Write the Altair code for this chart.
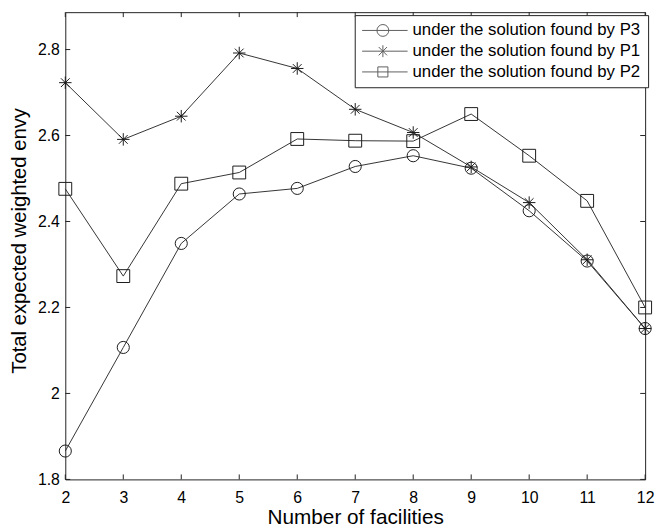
import altair as alt
import pandas as pd

# ---- data ----
facilities = [2, 3, 4, 5, 6, 7, 8, 9, 10, 11, 12]
p3_values = [1.866, 2.107, 2.349, 2.464, 2.477, 2.528, 2.553, 2.524, 2.425, 2.308, 2.151]
p1_values = [2.723, 2.591, 2.645, 2.792, 2.756, 2.661, 2.607, 2.527, 2.444, 2.311, 2.151]
p2_values = [2.476, 2.273, 2.488, 2.514, 2.592, 2.588, 2.587, 2.650, 2.553, 2.448, 2.200]

series_names = [
    "under the solution found by P3",
    "under the solution found by P1",
    "under the solution found by P2",
]
x_ticks = [2, 3, 4, 5, 6, 7, 8, 9, 10, 11, 12]
y_ticks = [1.8, 2.0, 2.2, 2.4, 2.6, 2.8]

rows = []
for name, vals in zip(series_names, [p3_values, p1_values, p2_values]):
    for f, v in zip(facilities, vals):
        rows.append({"facilities": f, "envy": v, "series": name})
df = pd.DataFrame(rows)
xt = pd.DataFrame({"t": x_ticks})
yt = pd.DataFrame({"t": y_ticks})

W, H = 587, 473
FONT = "Liberation Sans"
FRAME = "#222222"

STAR = "M0,-1L0,1M-1,0L1,0M-0.7,-0.7L0.7,0.7M-0.7,0.7L0.7,-0.7"
LEG_CIRCLE = "M-3.5,0L4.17,0M-1,0A1,1 0 1,0 1,0A1,1 0 1,0 -1,0"
LEG_STAR = "M-3.5,0L4.17,0M0,-1L0,1M-0.7,-0.7L0.7,0.7M-0.7,0.7L0.7,-0.7"
LEG_SQUARE = "M-3.5,0L4.17,0M-0.85,-0.85L0.85,-0.85L0.85,0.85L-0.85,0.85Z"

xscale = alt.Scale(domain=[2, 12], nice=False, zero=False)
yscale = alt.Scale(domain=[1.8, 2.887], nice=False, zero=False)

xaxis = alt.Axis(
    title="Number of facilities", values=x_ticks, format="d",
    ticks=False, tickSize=0, domain=False, grid=False,
    labelFlush=False, labelOverlap=False, labelBaseline="alphabetic",
    labelPadding=23, labelFontSize=16, labelFont=FONT, labelColor="#000",
    titleFontSize=21, titleFont=FONT, titleFontWeight="normal", titleColor="#000",
    titleBaseline="alphabetic", titleY=45,
)
yaxis = alt.Axis(
    title="Total expected weighted envy", values=y_ticks, format="~g",
    ticks=False, tickSize=0, domain=False, grid=False,
    labelFlush=False, labelOverlap=False, labelPadding=6,
    labelFontSize=16, labelFont=FONT, labelColor="#000",
    titleFontSize=20.5, titleFont=FONT, titleFontWeight="normal", titleColor="#000",
    titleAngle=270, titleBaseline="alphabetic", titleAlign="center",
    titleX=-40, titleY=231,
)

base = alt.Chart(df)

lines = base.mark_line(color="#333333", strokeWidth=1).encode(
    x=alt.X("facilities:Q", scale=xscale, axis=xaxis),
    y=alt.Y("envy:Q", scale=yscale, axis=yaxis),
    detail="series:N",
)

points = base.mark_point(filled=False, color="#1a1a1a", strokeWidth=1, opacity=1).encode(
    x=alt.X("facilities:Q", scale=xscale),
    y=alt.Y("envy:Q", scale=yscale),
    shape=alt.Shape("series:N", scale=alt.Scale(domain=series_names,
                    range=["circle", STAR, "square"]), legend=None),
    size=alt.Size("series:N", scale=alt.Scale(domain=series_names,
                  range=[150, 169, 120]), legend=None),
)

legend_layer = base.transform_filter("false").mark_point(
    filled=False, color="#1a1a1a", strokeWidth=1, size=144
).encode(
    x=alt.X("facilities:Q", scale=xscale),
    y=alt.Y("envy:Q", scale=yscale),
    shape=alt.Shape("series:N", scale=alt.Scale(domain=series_names,
                    range=[LEG_CIRCLE, LEG_STAR, LEG_SQUARE]),
                    legend=alt.Legend(
                        title=None, orient="none", legendX=293, legendY=3,
                        labelFont=FONT, labelFontSize=17, labelColor="#000",
                        symbolOffset=13, labelOffset=21.5, rowPadding=3, padding=7,
                        strokeColor=FRAME, fillColor="white",
                        symbolStrokeColor="#1a1a1a", symbolStrokeWidth=1,
                        symbolSize=144, labelLimit=400,
                    )),
)

tick_style = dict(color=FRAME, strokeWidth=1)
bottom_ticks = alt.Chart(xt).mark_rule(**tick_style).encode(
    x=alt.X("t:Q", scale=xscale), y=alt.value(H), y2=alt.value(H - 5))
top_ticks = alt.Chart(xt).mark_rule(**tick_style).encode(
    x=alt.X("t:Q", scale=xscale), y=alt.value(0), y2=alt.value(5))
left_ticks = alt.Chart(yt).mark_rule(**tick_style).encode(
    y=alt.Y("t:Q", scale=yscale), x=alt.value(0), x2=alt.value(5))
right_ticks = alt.Chart(yt).mark_rule(**tick_style).encode(
    y=alt.Y("t:Q", scale=yscale), x=alt.value(W), x2=alt.value(W - 5))

chart = alt.layer(
    bottom_ticks, top_ticks, left_ticks, right_ticks, lines, points, legend_layer
).resolve_scale(shape="independent", size="independent").properties(
    width=W, height=H,
    autosize=alt.AutoSizeParams(type="none"),
    padding={"left": 58, "top": 1, "right": 12, "bottom": 48},
    background="white",
).configure_view(stroke=FRAME, strokeWidth=1)

chart.save("out.html", embed_options={"renderer": "svg", "actions": False})
